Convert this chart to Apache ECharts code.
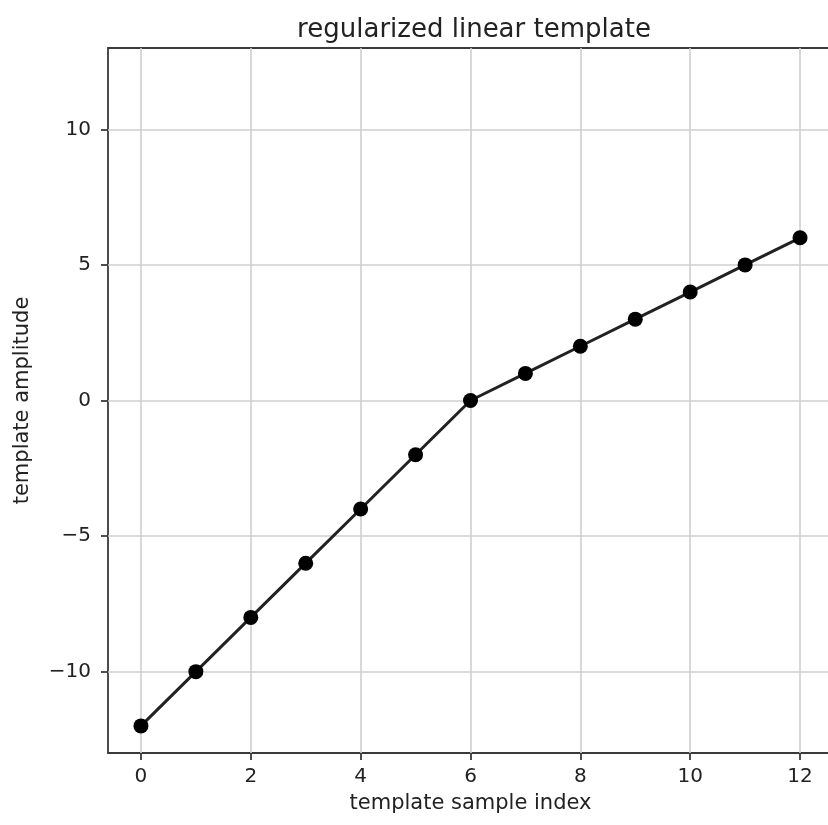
<!DOCTYPE html>
<html><head><meta charset="utf-8">
<script src="https://cdn.jsdelivr.net/npm/echarts@6/dist/echarts.min.js"></script>
<style>html,body{margin:0;padding:0;background:#fff}#c{width:828px;height:825px}</style>
</head><body><div id="c"></div>
<script>
const sampleIndex = [0,1,2,3,4,5,6,7,8,9,10,11,12];
const amplitude = [-12,-10,-8,-6,-4,-2,0,1,2,3,4,5,6];
const xTicks = [0,2,4,6,8,10,12];
const yTicks = [-10,-5,0,5,10];

const font = 'DejaVu Sans';
const fmt = v => String(v).replace('-', '\u2212');
const chart = echarts.init(document.getElementById('c'));
chart.setOption({
  animation: false,
  title: {text: 'regularized linear template', left: 469, top: 12, textAlign: 'center',
    textStyle: {fontFamily: font, fontSize: 26, fontWeight: 'normal', color: '#222'}},
  grid: {left: 108, top: 48, width: 725, height: 705, show: true, outerBoundsMode: 'none', containLabel: false,
    borderColor: '#3a3a3a', borderWidth: 1.8, backgroundColor: 'transparent'},
  xAxis: {type: 'value', min: -0.6, max: 12.6,
    name: 'template sample index', nameLocation: 'middle', nameGap: 40,
    nameTextStyle: {fontFamily: font, fontSize: 21, color: '#222'},
    axisLine: {show: false, onZero: false},
    axisTick: {show: true, customValues: xTicks, length: 7, lineStyle: {color: '#3a3a3a', width: 1.8}},
    axisLabel: {customValues: xTicks, formatter: fmt, fontFamily: font, fontSize: 20, color: '#222', margin: 14},
    splitLine: {show: true, lineStyle: {color: '#cfcfcf', width: 1.6}}
  },
  yAxis: {type: 'value', min: -13, max: 13,
    name: 'template amplitude', nameLocation: 'middle', nameGap: 75, nameRotate: 90,
    nameTextStyle: {fontFamily: font, fontSize: 21, color: '#222'},
    axisLine: {show: false, onZero: false},
    axisTick: {show: true, customValues: yTicks, length: 7, lineStyle: {color: '#3a3a3a', width: 1.8}},
    axisLabel: {customValues: yTicks, formatter: fmt, fontFamily: font, fontSize: 20, color: '#222', margin: 17},
    splitLine: {show: true, lineStyle: {color: '#cfcfcf', width: 1.6}}
  },
  series: [{type: 'line', data: sampleIndex.map((x, i) => [x, amplitude[i]]),
    symbol: 'circle', symbolSize: 15, lineStyle: {color: '#222', width: 3},
    itemStyle: {color: '#000'}}]
});
</script></body></html>
